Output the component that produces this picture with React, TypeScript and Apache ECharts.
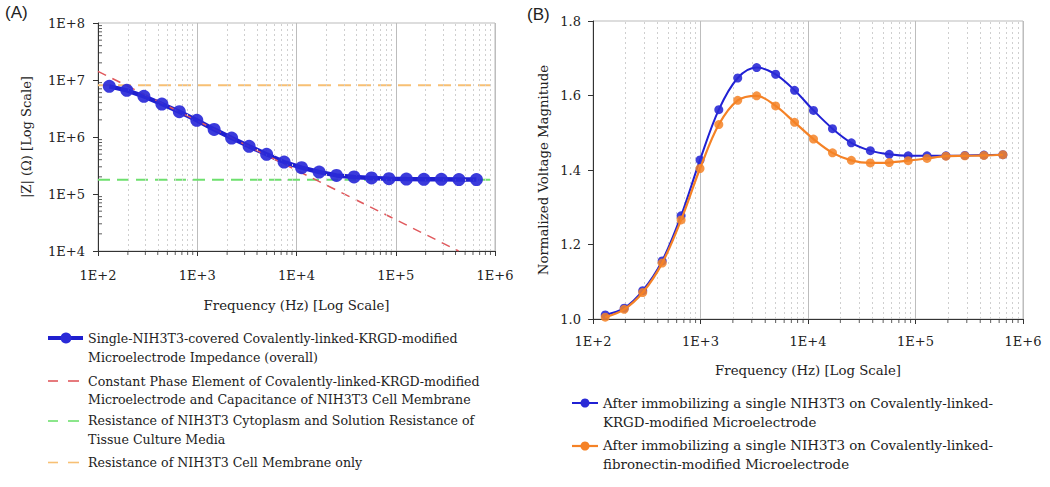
import React, { useEffect, useRef } from "react";
import * as echarts from "echarts";

// ---- Data ----
const freq = [130, 195, 290, 440, 660, 990, 1480, 2220, 3330, 5000, 7500, 11250, 16900, 25300, 38000, 57000, 85500, 128000, 192000, 288000, 433000, 650000];
const impedance = [7.74e6, 6.59e6, 5.17e6, 3.79e6, 2.78e6, 1.96e6, 1.36e6, 9.6e5, 6.86e5, 4.97e5, 3.64e5, 2.9e5, 2.43e5, 2.12e5, 1.99e5, 1.91e5, 1.86e5, 1.83e5, 1.81e5, 1.81e5, 1.79e5, 1.79e5];
const cpeLine = [[100, 1.42e7], [4.3e5, 1e4]];
const cytoplasmRes = 1.78e5;
const membraneRes = 8.05e6;
const krgdVoltage = [1.011, 1.029, 1.076, 1.156, 1.277, 1.427, 1.562, 1.647, 1.675, 1.657, 1.614, 1.56, 1.511, 1.473, 1.452, 1.442, 1.438, 1.438, 1.438, 1.439, 1.44, 1.441];
const fibroVoltage = [1.005, 1.026, 1.071, 1.15, 1.266, 1.404, 1.522, 1.587, 1.599, 1.572, 1.528, 1.483, 1.446, 1.426, 1.419, 1.42, 1.425, 1.431, 1.437, 1.438, 1.439, 1.441];
const xDecades = [100, 1000, 10000, 100000];
const yDecadesA = [1e4, 1e5, 1e6, 1e7];
const minorMult = [2, 3, 4, 5, 6, 7, 8, 9];

const legendA = [
  "Single-NIH3T3-covered Covalently-linked-KRGD-modified\nMicroelectrode Impedance (overall)",
  "Constant Phase Element of Covalently-linked-KRGD-modified\nMicroelectrode and Capacitance of NIH3T3 Cell Membrane",
  "Resistance of NIH3T3 Cytoplasm and Solution Resistance of\nTissue Culture Media",
  "Resistance of NIH3T3 Cell Membrane only",
];
const legendB = [
  "After immobilizing a single NIH3T3 on Covalently-linked-\nKRGD-modified Microelectrode",
  "After immobilizing a single NIH3T3 on Covalently-linked-\nfibronectin-modified Microelectrode",
];

const FONT = "DejaVu Serif";
const BLUE_A = "#1f1fcf";
const RED = "#e0585c";
const GREEN = "#6ee06e";
const ORANGE_A = "#f7c074";
const BLUE_B = "#2020d4";
const ORANGE_B = "#f58226";

const minorX: number[] = [];
xDecades.forEach((d) => minorMult.forEach((m) => minorX.push(d * m)));
const minorYA: number[] = [];
yDecadesA.forEach((d) => minorMult.forEach((m) => minorYA.push(d * m)));

const sciFmt = (v: number) => "1E+" + Math.round(Math.log10(v));

export default function App() {
  const ref = useRef<HTMLDivElement>(null);
  useEffect(() => {
    if (!ref.current) return;
    const chart = echarts.init(ref.current, null, { renderer: "svg" });

    const axisLabelStyle = { fontFamily: FONT, fontSize: 13, color: "#222" };
    const nameStyle = { fontFamily: FONT, fontSize: 13.3, color: "#222" };
    const minorLines = minorX.map((v) => ({ xAxis: v }));
    const markLineMinor = {
      silent: true,
      symbol: ["none", "none"],
      label: { show: false },
      lineStyle: { type: [2, 3], color: "#cfcfcf", width: 1 },
      data: minorLines,
      animation: false,
    };

    const textItem = (x: number, y: number, text: string, lh: number, fs: number) => ({
      type: "text",
      x,
      y,
      style: { text, fontFamily: FONT, fontSize: fs, fill: "#222", lineHeight: lh, verticalAlign: "top" },
    });
    const dashIcon = (x: number, y: number, color: string) => ({
      type: "group",
      children: [
        { type: "line", shape: { x1: x, y1: y, x2: x + 10, y2: y }, style: { stroke: color, lineWidth: 1.6 } },
        { type: "line", shape: { x1: x + 20, y1: y, x2: x + 31, y2: y }, style: { stroke: color, lineWidth: 1.6 } },
      ],
    });

    const option: any = {
      animation: false,
      backgroundColor: "#fff",
      grid: [
        { left: 98, right: 555, top: 23, bottom: 236, show: true, borderColor: "#bbb", borderWidth: 1 },
        { left: 593, right: 27, top: 21, bottom: 168, show: true, borderColor: "#bbb", borderWidth: 1 },
      ],
      xAxis: [
        {
          type: "log", gridIndex: 0, min: 100, max: 1e6, logBase: 10,
          name: "Frequency (Hz) [Log Scale]", nameLocation: "middle", nameGap: 48,
          nameTextStyle: nameStyle,
          axisLine: { lineStyle: { color: "#333" } },
          axisTick: { show: true, length: 5, lineStyle: { color: "#333" } },
          axisLabel: { ...axisLabelStyle, margin: 18, formatter: sciFmt },
          splitLine: { show: true, lineStyle: { color: "#bdbdbd", width: 1 } },
        },
        {
          type: "log", gridIndex: 1, min: 100, max: 1e6, logBase: 10,
          name: "Frequency (Hz) [Log Scale]", nameLocation: "middle", nameGap: 45,
          nameTextStyle: nameStyle,
          axisLine: { lineStyle: { color: "#333" } },
          axisTick: { show: true, length: 5, lineStyle: { color: "#333" } },
          axisLabel: { ...axisLabelStyle, margin: 16, formatter: sciFmt },
          splitLine: { show: true, lineStyle: { color: "#bdbdbd", width: 1 } },
        },
      ],
      yAxis: [
        {
          type: "log", gridIndex: 0, min: 1e4, max: 1e8, logBase: 10,
          name: "|Z| (Ω) [Log Scale]", nameLocation: "middle", nameGap: 65,
          nameTextStyle: { ...nameStyle, fontSize: 13 },
          axisLine: { show: true, lineStyle: { color: "#333" } },
          axisTick: { show: true, length: 5, lineStyle: { color: "#333" } },
          axisLabel: { ...axisLabelStyle, margin: 13, formatter: sciFmt },
          splitLine: { show: false },
        },
        {
          type: "value", gridIndex: 1, min: 1.0, max: 1.8, interval: 0.2,
          name: "Normalized Voltage Magnitude", nameLocation: "middle", nameGap: 43,
          nameTextStyle: nameStyle,
          axisLine: { show: true, lineStyle: { color: "#333" } },
          axisTick: { show: true, length: 5, lineStyle: { color: "#333" } },
          axisLabel: { ...axisLabelStyle, margin: 12, formatter: (v: number) => v.toFixed(1) },
          splitLine: { show: false },
        },
      ],
      series: [
        // Panel A minor ticks + minor grid
        {
          type: "scatter", xAxisIndex: 0, yAxisIndex: 0, silent: true, clip: false,
          symbol: "rect", symbolSize: [1, 4], symbolOffset: [0, 2],
          itemStyle: { color: "#333" },
          data: minorX.map((v) => [v, 1e4]),
          markLine: markLineMinor, z: 1,
        },
        {
          type: "scatter", xAxisIndex: 0, yAxisIndex: 0, silent: true, clip: false,
          symbol: "rect", symbolSize: [4, 1], symbolOffset: [2, 0],
          itemStyle: { color: "#333" },
          data: minorYA.map((v) => [100, v]), z: 1,
        },
        // Panel B minor ticks + minor grid
        {
          type: "scatter", xAxisIndex: 1, yAxisIndex: 1, silent: true, clip: false,
          symbol: "rect", symbolSize: [1, 4], symbolOffset: [0, 2],
          itemStyle: { color: "#333" },
          data: minorX.map((v) => [v, 1.0]),
          markLine: markLineMinor, z: 1,
        },
        // Panel A data
        {
          name: "Resistance of NIH3T3 Cytoplasm", type: "line", xAxisIndex: 0, yAxisIndex: 0,
          data: [[100, cytoplasmRes], [1e6, cytoplasmRes]], showSymbol: false,
          lineStyle: { color: GREEN, width: 1.8, type: [12, 7] }, z: 2,
        },
        {
          name: "Resistance of NIH3T3 Cell Membrane", type: "line", xAxisIndex: 0, yAxisIndex: 0,
          data: [[100, membraneRes], [1e6, membraneRes]], showSymbol: false,
          lineStyle: { color: ORANGE_A, width: 2, type: [13, 7] }, z: 2,
        },
        {
          name: "Impedance line", type: "line", xAxisIndex: 0, yAxisIndex: 0,
          data: freq.map((f, i) => [f, impedance[i]]), showSymbol: false,
          lineStyle: { color: BLUE_A, width: 4.5 }, z: 3,
        },
        {
          name: "Constant Phase Element", type: "line", xAxisIndex: 0, yAxisIndex: 0,
          data: cpeLine, showSymbol: false, clip: true,
          lineStyle: { color: RED, width: 1.5, type: [9, 7] }, z: 4,
        },
        {
          name: "Impedance", type: "scatter", xAxisIndex: 0, yAxisIndex: 0,
          data: freq.map((f, i) => [f, impedance[i]]),
          symbol: "circle", symbolSize: 13,
          itemStyle: { color: "#2a2ad8", opacity: 0.92 }, z: 5,
        },
        // Panel B data
        {
          name: "KRGD", type: "line", xAxisIndex: 1, yAxisIndex: 1, smooth: 0.35,
          data: freq.map((f, i) => [f, krgdVoltage[i]]),
          symbol: "circle", symbolSize: 9, showSymbol: true,
          lineStyle: { color: BLUE_B, width: 2 },
          itemStyle: { color: "#2a2ad6", opacity: 0.9 }, z: 5,
        },
        {
          name: "fibronectin", type: "line", xAxisIndex: 1, yAxisIndex: 1, smooth: 0.35,
          data: freq.map((f, i) => [f, fibroVoltage[i]]),
          symbol: "circle", symbolSize: 9, showSymbol: true,
          lineStyle: { color: ORANGE_B, width: 2.2 },
          itemStyle: { color: ORANGE_B, opacity: 0.85 }, z: 6,
        },
      ],
      graphic: [
        { type: "text", x: 5, y: 4, style: { text: "(A)", fontFamily: "Liberation Sans", fontSize: 17, fill: "#222" } },
        { type: "text", x: 527, y: 6, style: { text: "(B)", fontFamily: "Liberation Sans", fontSize: 17, fill: "#222" } },
        // Legend A
        { type: "line", shape: { x1: 48, y1: 338, x2: 83, y2: 338 }, style: { stroke: BLUE_A, lineWidth: 4 } },
        { type: "circle", shape: { cx: 66, cy: 338, r: 5.5 }, style: { fill: "#2a2ad8" } },
        textItem(88, 328.5, legendA[0], 19.5, 12.6),
        dashIcon(48, 381, RED),
        textItem(88, 372, legendA[1], 18, 12.6),
        dashIcon(48, 421, GREEN),
        textItem(88, 411.5, legendA[2], 18.5, 12.6),
        dashIcon(48, 462.5, ORANGE_A),
        textItem(88, 453, legendA[3], 18.5, 12.6),
        // Legend B
        { type: "line", shape: { x1: 572, y1: 403, x2: 598, y2: 403 }, style: { stroke: BLUE_B, lineWidth: 2 } },
        { type: "circle", shape: { cx: 585, cy: 403, r: 4.5 }, style: { fill: "#2a2ad6" } },
        textItem(603, 393.5, legendB[0], 19, 13.4),
        { type: "line", shape: { x1: 572, y1: 446, x2: 598, y2: 446 }, style: { stroke: ORANGE_B, lineWidth: 2.2 } },
        { type: "circle", shape: { cx: 585, cy: 446, r: 4.5 }, style: { fill: ORANGE_B } },
        textItem(603, 436.5, legendB[1], 18.5, 13.4),
      ],
    };
    chart.setOption(option);
    return () => chart.dispose();
  }, []);

  return (
    <div
      ref={ref}
      style={{ position: "absolute", left: 0, top: 0, width: 1050, height: 487, background: "#fff" }}
    />
  );
}
